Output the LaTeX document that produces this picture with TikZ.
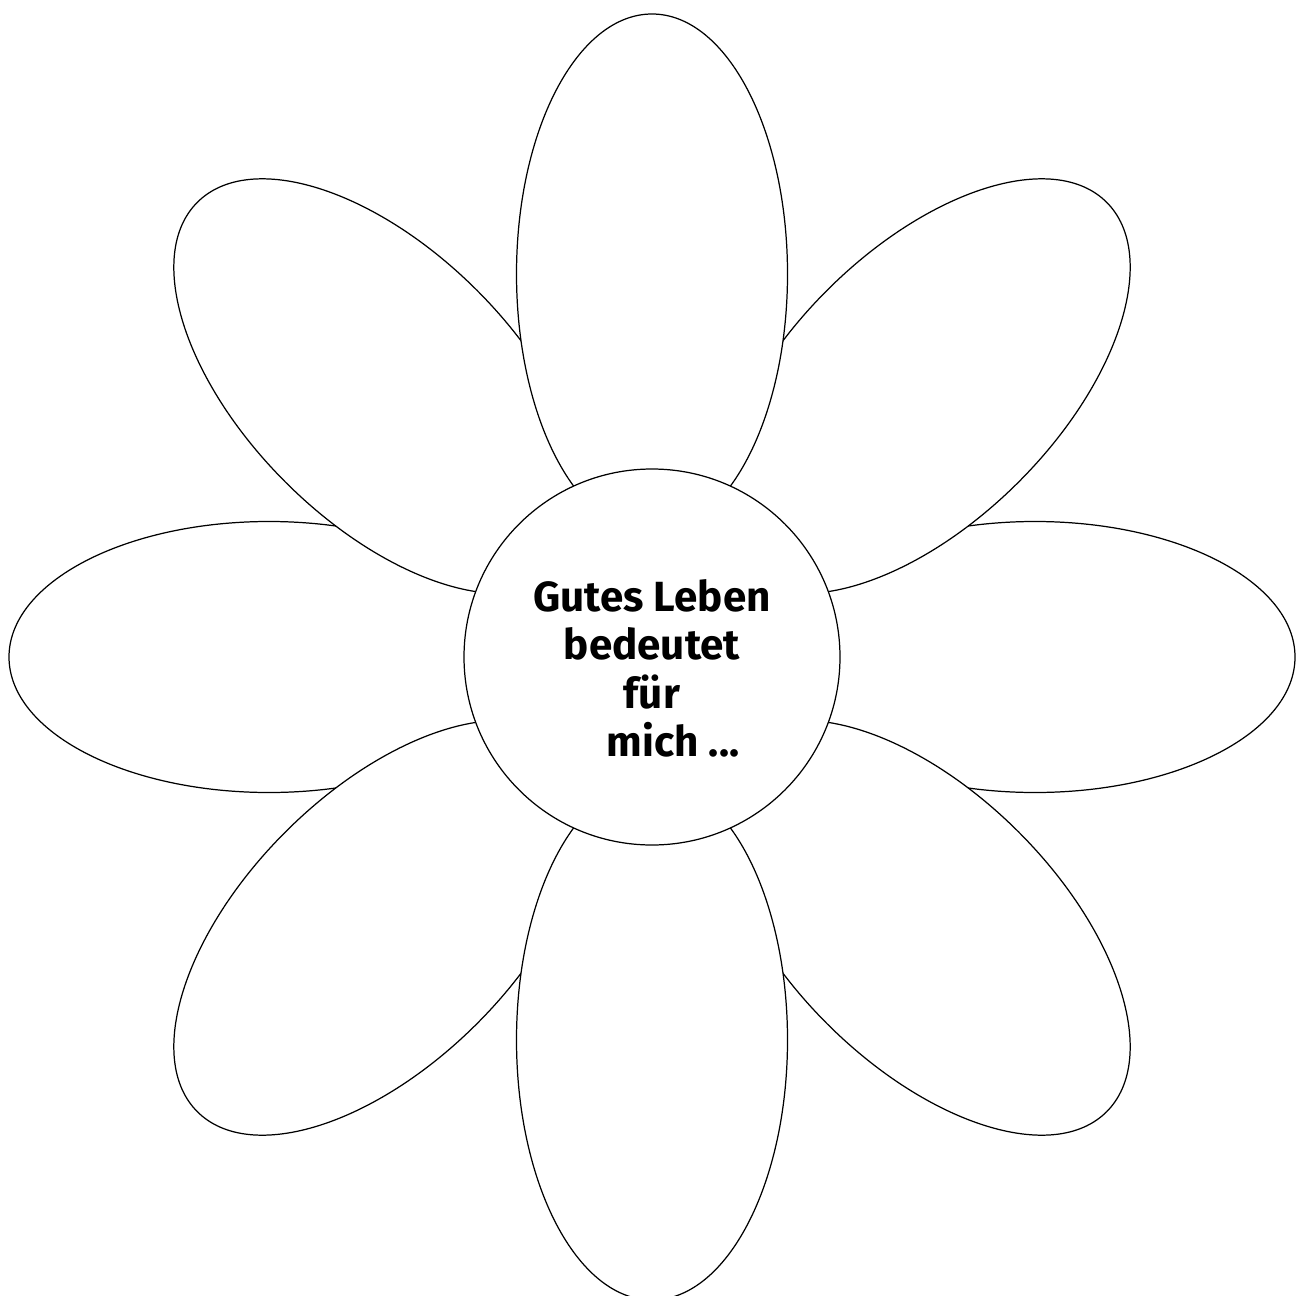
\documentclass[tikz,border=0pt]{standalone}
\usepackage{fontspec}
\setsansfont{Fira Sans}
\usepackage{tikz}
\usetikzlibrary{shapes.geometric, calc}
\tikzset{
  blatt/.style={ellipse, draw=black, fill=white, line width=0.7pt,
    minimum width=10.4cm, minimum height=5.42cm, inner sep=0pt},
  kreis/.style={circle, draw=black, fill=white, line width=0.7pt,
    minimum size=7.52cm, inner sep=0pt},
  spruch/.style={align=center, inner sep=0pt, text depth=0pt,
    font=\sffamily\bfseries\fontsize{24}{27.5}\selectfont}
}
\begin{document}
\begin{tikzpicture}
  \useasboundingbox (0,0) rectangle (25.96,-25.9);
  \coordinate (mitte) at (13.04,-13.14);
  % Blaetter: waagrecht, schraeg, senkrecht (in dieser Reihenfolge)
  \foreach \w in {0,180,45,135,225,315,90,270}
    \node[blatt, rotate=\w] (blatt\w) at ($(mitte)+(\w:7.66)$) {};
  \node[kreis] (kreis) at (mitte) {};
  \node[spruch] (spruch) at ($(kreis.center)+(0,-0.22)$)
    {Gutes Leben\\bedeutet\\für\\\hspace*{1em}mich ...};
\end{tikzpicture}
\end{document}
